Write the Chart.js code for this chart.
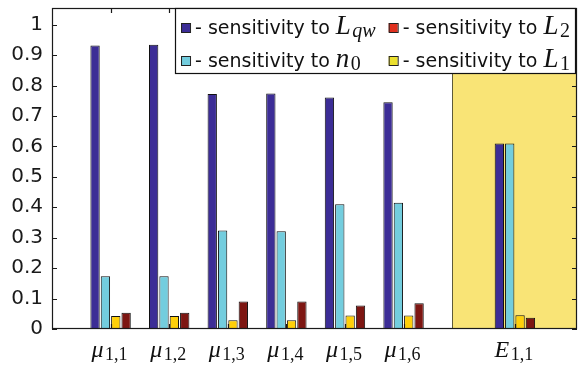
<!DOCTYPE html>
<html>
<head>
<meta charset="utf-8">
<script src="https://cdn.jsdelivr.net/npm/chart.js@4.4.1/dist/chart.umd.min.js"></script>
<style>
  html, body { margin: 0; padding: 0; background: #fff; }
  #wrap { width: 579px; height: 365px; }
</style>
</head>
<body>
<div id="wrap"><canvas id="myChart"></canvas></div>
<script>
// categories: symbol before "_" is drawn italic, the rest as a subscript
var categories = ['μ_1,1', 'μ_1,2', 'μ_1,3', 'μ_1,4', 'μ_1,5', 'μ_1,6', 'E_1,1'];
var categoryX = [1, 2, 3, 4, 5, 6, 7.9];
var seriesNames = ['L_qw', 'n_0', 'L_1', 'L_2'];

var sensLqw = [0.932, 0.934, 0.772, 0.774, 0.761, 0.745, 0.610];
var sensN0  = [0.173, 0.173, 0.324, 0.321, 0.410, 0.415, 0.610];
var sensL1  = [0.043, 0.043, 0.029, 0.029, 0.044, 0.044, 0.045];
var sensL2  = [0.053, 0.053, 0.090, 0.090, 0.077, 0.085, 0.037];

var yTicks = [0, 0.1, 0.2, 0.3, 0.4, 0.5, 0.6, 0.7, 0.8, 0.9, 1];
var highlightFrom = 6.83; // yellow block behind E_1,1

var barColors = ['#3c2d96', '#73cdde', '#ffd00a', '#7d1612'];
var legendColors = ['#3c2d96', '#73cdde', '#ebe02e', '#e0301e'];
var legendOrder = [0, 3, 1, 2]; // row by row, two columns

function points(vals) {
    var out = [];
    for (var i = 0; i < vals.length; i++) out.push({ x: categoryX[i], y: vals[i] });
    return out;
}

var allSeries = [sensLqw, sensN0, sensL1, sensL2];
var datasets = [];
for (var s = 0; s < allSeries.length; s++) {
    datasets.push({
        label: 'sensitivity to ' + seriesNames[s],
        data: points(allSeries[s]),
        backgroundColor: barColors[s],
        borderColor: '#111',
        borderWidth: 1,
        categoryPercentage: 0.707,
        barPercentage: 0.9
    });
}

var serif = '"Liberation Serif", "DejaVu Serif", serif';
var sans = '"DejaVu Sans", sans-serif';

// draws base (italic) + subscript, returns width; if measureOnly, draws nothing
function drawMath(ctx, txt, x, baseline, baseSize, subSize, measureOnly) {
    var parts = txt.split('_');
    var base = parts[0], sub = parts[1] || '';
    ctx.font = 'italic ' + baseSize + 'px ' + serif;
    var wb = ctx.measureText(base).width;
    var subItalic = /[a-z]/.test(sub);
    ctx.font = (subItalic ? 'italic ' : '') + subSize + 'px ' + serif;
    var ws = ctx.measureText(sub).width;
    if (!measureOnly) {
        ctx.font = 'italic ' + baseSize + 'px ' + serif;
        ctx.fillText(base, x, baseline);
        ctx.font = (subItalic ? 'italic ' : '') + subSize + 'px ' + serif;
        ctx.fillText(sub, x + wb + 1.5, baseline + 3);
    }
    return wb + 1.5 + ws;
}

var decorPlugin = {
    id: 'decor',
    beforeDatasetsDraw: function (chart) {
        var ctx = chart.ctx, a = chart.chartArea, xs = chart.scales.x;
        var x0 = xs.getPixelForValue(highlightFrom);
        ctx.save();
        ctx.fillStyle = '#f9e476';
        ctx.fillRect(x0, a.top, a.right - x0, a.bottom - a.top);
        ctx.strokeStyle = '#5e5a3a';
        ctx.lineWidth = 1;
        ctx.beginPath();
        ctx.moveTo(Math.round(x0) + 0.5, a.top);
        ctx.lineTo(Math.round(x0) + 0.5, a.bottom);
        ctx.stroke();
        ctx.restore();
    },
    afterDatasetsDraw: function (chart) {
        var ctx = chart.ctx, a = chart.chartArea, xs = chart.scales.x, ys = chart.scales.y;
        ctx.save();
        ctx.strokeStyle = '#1a1a1a';
        ctx.lineWidth = 1.2;
        ctx.strokeRect(a.left + 0.5, a.top + 0.5, a.right - a.left - 1, a.bottom - a.top - 1);
        ctx.beginPath();
        for (var i = 0; i < yTicks.length; i++) {
            var y = Math.round(ys.getPixelForValue(yTicks[i])) + 0.5;
            ctx.moveTo(a.left, y); ctx.lineTo(a.left + 5, y);
            ctx.moveTo(a.right, y); ctx.lineTo(a.right - 5, y);
        }
        for (var j = 0; j < categoryX.length; j++) {
            var x = Math.round(xs.getPixelForValue(categoryX[j])) + 0.5;
            ctx.moveTo(x, a.top); ctx.lineTo(x, a.top + 5);
            ctx.moveTo(x, a.bottom); ctx.lineTo(x, a.bottom - 5);
        }
        ctx.stroke();
        ctx.restore();
    },
    afterDraw: function (chart) {
        var ctx = chart.ctx, a = chart.chartArea, xs = chart.scales.x;
        ctx.save();
        ctx.fillStyle = '#111';
        ctx.textBaseline = 'alphabetic';
        ctx.textAlign = 'left';
        // x category labels
        for (var i = 0; i < categories.length; i++) {
            var cx = xs.getPixelForValue(categoryX[i]) - 1;
            var w = drawMath(ctx, categories[i], 0, 0, 24, 18, true);
            drawMath(ctx, categories[i], cx - w / 2, a.bottom + 28, 24, 18, false);
        }
        // legend inside the axes, top right
        var prefix = '- sensitivity to ';
        ctx.font = '19px ' + sans;
        var wp = ctx.measureText(prefix).width;
        var colW = [0, 0];
        for (var k = 0; k < legendOrder.length; k++) {
            var ew = 15 + wp + drawMath(ctx, seriesNames[legendOrder[k]], 0, 0, 27, 20, true);
            colW[k % 2] = Math.max(colW[k % 2], ew);
        }
        var padL = 6, gap = 12, padR = 4;
        var boxW = padL + colW[0] + gap + colW[1] + padR;
        var boxR = a.right - 2, boxL = boxR - boxW, boxT = a.top + 0.5, boxH = 65;
        ctx.fillStyle = '#fff';
        ctx.fillRect(boxL, boxT, boxW, boxH);
        ctx.strokeStyle = '#111';
        ctx.lineWidth = 1.2;
        ctx.strokeRect(Math.round(boxL) + 0.5, boxT, Math.round(boxW), boxH);
        for (var m = 0; m < legendOrder.length; m++) {
            var idx = legendOrder[m];
            var col = m % 2, row = Math.floor(m / 2);
            var ex = boxL + padL + (col ? colW[0] + gap : 0);
            var ey = boxT + 19 + row * 33;
            ctx.fillStyle = legendColors[idx];
            ctx.fillRect(ex, ey - 4.5, 9, 9);
            ctx.strokeStyle = '#222';
            ctx.lineWidth = 1;
            ctx.strokeRect(ex + 0.5, ey - 4, 9, 9);
            ctx.fillStyle = '#111';
            ctx.font = '19px ' + sans;
            ctx.fillText(prefix, ex + 14, ey + 6);
            drawMath(ctx, seriesNames[idx], ex + 14 + wp, ey + 6, 27, 20, false);
        }
        ctx.restore();
    }
};

var ctx = document.getElementById('myChart').getContext('2d');
var myChart = new Chart(ctx, {
    type: 'bar',
    data: { datasets: datasets },
    options: {
        responsive: true,
        maintainAspectRatio: false,
        animation: false,
        layout: { padding: { top: 8, right: 2, left: 0, bottom: 0 } },
        plugins: {
            legend: { display: false },
            tooltip: { enabled: false }
        },
        scales: {
            x: {
                type: 'linear',
                offset: false,
                min: 0,
                max: 8.96,
                grid: { display: false, drawTicks: false, offset: false },
                border: { display: false },
                ticks: { display: false },
                afterBuildTicks: function (scale) {
                    scale.ticks = categoryX.map(function (v) { return { value: v }; });
                },
                afterFit: function (scale) {
                    scale.height = 36;
                    scale.paddingLeft = 0;
                    scale.paddingRight = 0;
                }
            },
            y: {
                min: 0,
                max: 1.055,
                grid: { display: false, drawTicks: false },
                border: { display: false },
                ticks: {
                    font: { family: 'DejaVu Sans', size: 20 },
                    color: '#1a1a1a',
                    padding: 9,
                    callback: function (v) { return String(Math.round(v * 10) / 10); }
                },
                afterBuildTicks: function (scale) {
                    scale.ticks = yTicks.map(function (v) { return { value: v }; });
                },
                afterFit: function (scale) {
                    scale.width = 52;
                    scale.paddingTop = 0;
                    scale.paddingBottom = 0;
                }
            }
        }
    },
    plugins: [decorPlugin]
});
</script>
</body>
</html>
